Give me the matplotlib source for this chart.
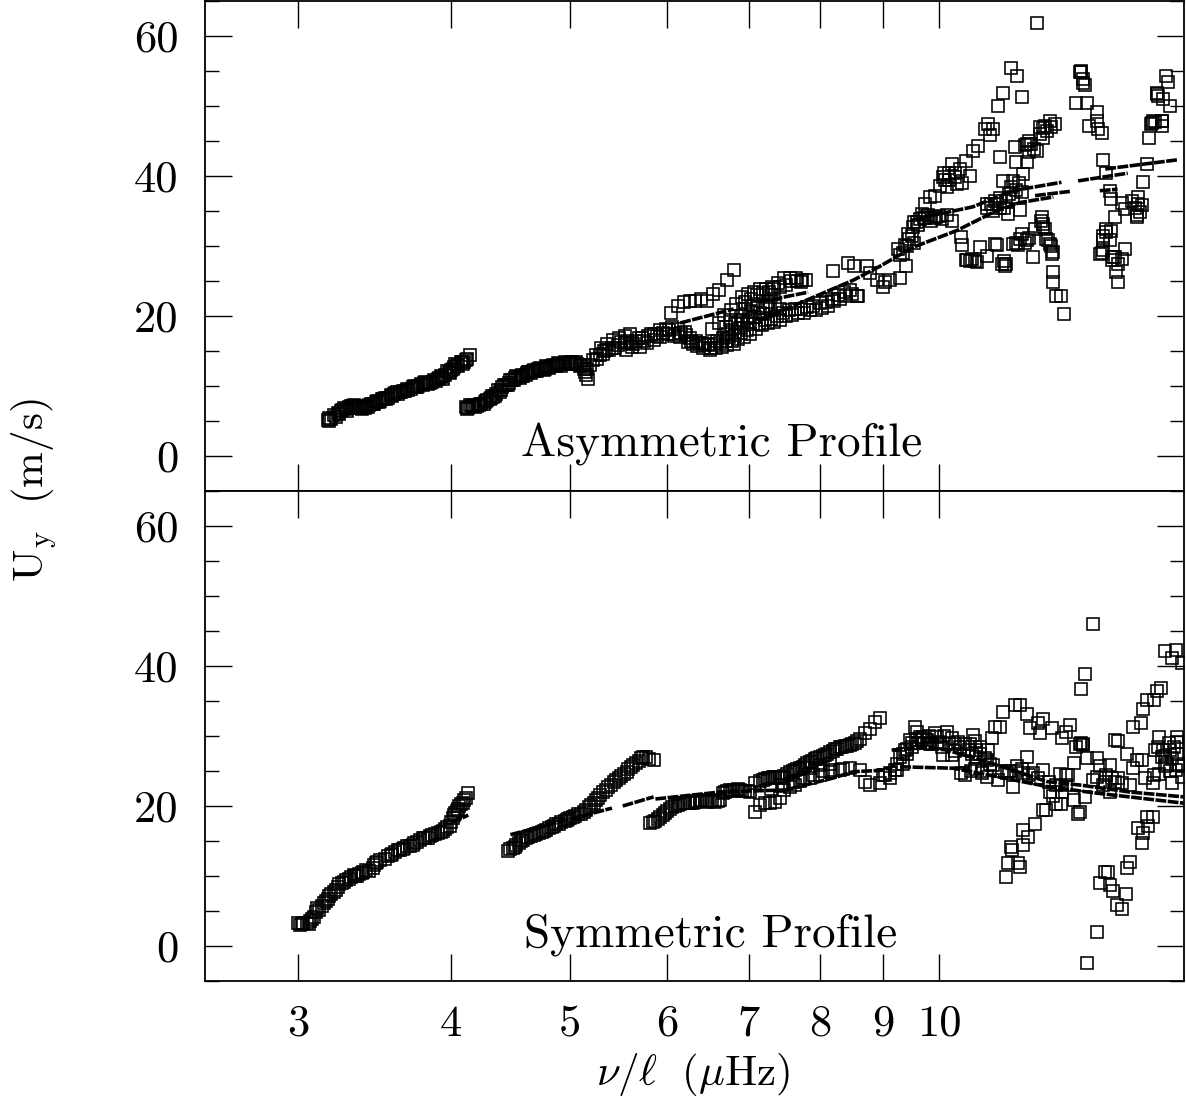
import matplotlib
matplotlib.use("Agg")
import matplotlib.pyplot as plt
from matplotlib.ticker import FixedLocator, NullLocator, NullFormatter

plt.rcParams["font.family"] = ["cmr10", "DejaVu Serif"]
plt.rcParams["mathtext.fontset"] = "cm"
plt.rcParams["axes.formatter.use_mathtext"] = True

# Asymmetric profile, squares
asym_x = [
    3.17, 3.21, 3.25, 3.28, 3.32, 3.36, 3.40, 3.43, 3.47, 3.51, 3.55, 3.59, 3.63, 3.67, 3.72, 3.76, 3.80, 3.84,
    3.89, 3.93, 3.98, 4.02, 4.07, 4.11, 4.14,
    3.19, 3.23, 3.27, 3.30, 3.34, 3.38, 3.41, 3.45, 3.49, 3.53, 3.57, 3.61, 3.65, 3.69, 3.74, 3.78, 3.82, 3.86,
    3.91, 3.95, 4.00, 4.04, 4.09, 4.12,
    4.11, 4.16, 4.21, 4.26, 4.31, 4.35, 4.40, 4.46, 4.51, 4.56, 4.61, 4.66, 4.71, 4.77, 4.82, 4.88, 4.93, 4.99,
    5.05, 5.10, 5.15,
    4.13, 4.18, 4.23, 4.28, 4.33, 4.38, 4.43, 4.48, 4.53, 4.58, 4.63, 4.68, 4.74, 4.79, 4.85, 4.90, 4.96, 5.02,
    5.07, 5.13, 5.17, 5.19,
    5.22, 5.29, 5.35, 5.41, 5.47, 5.54, 5.60, 5.66, 5.72, 5.79, 5.86, 5.92, 5.99, 6.06, 6.13, 6.20,
    5.25, 5.32, 5.38, 5.44, 5.50, 5.57, 5.63, 5.69, 5.75, 5.82, 5.89, 5.95, 6.02, 6.09, 6.16, 6.24,
    6.27, 6.34, 6.41, 6.48, 6.55, 6.63, 6.70, 6.78, 6.85, 6.93, 7.01, 7.09, 7.17, 7.25, 7.33, 7.42, 7.50, 7.59,
    7.67, 7.76, 7.85, 7.94, 8.03, 8.12, 8.21, 8.30, 8.40, 8.49, 8.59,
    6.30, 6.37, 6.44, 6.52, 6.59, 6.66, 6.74, 6.82, 6.89, 6.97, 7.05, 7.13, 7.21, 7.29, 7.37, 7.46, 7.54, 7.63,
    7.72, 7.81, 7.90, 8.00, 8.09, 8.18, 8.27, 8.37, 8.46,
    6.53, 6.61, 6.68, 6.76, 6.83, 6.91, 6.99, 7.06, 7.15, 7.23, 7.31, 7.39, 7.47, 7.56, 7.64, 7.73, 7.79,
    6.70, 6.75, 6.85, 6.90, 6.95, 7.00, 7.05, 7.15, 7.25, 7.30,
    6.05, 6.12, 6.19, 6.26, 6.32, 6.40, 6.47, 6.54, 6.62, 6.72, 6.80,
    8.19, 8.43, 8.53, 8.74, 8.78, 8.57, 8.90, 9.00,
    9.03, 9.12, 9.30, 9.40, 9.26, 9.38, 9.44, 9.53, 9.59, 9.68, 9.74, 9.83, 9.93, 10.02, 10.08, 10.24, 10.40,
    10.53, 10.66, 10.76, 10.90, 10.97, 11.07, 11.01, 11.18, 11.27, 11.45, 11.57, 11.69, 12.03,
    9.50, 9.62, 9.72, 9.80, 9.90, 10.00, 10.12, 10.20, 10.30, 10.45, 10.60,
    10.94, 11.11, 11.21, 11.39, 11.64, 11.68, 11.50, 11.28, 11.72, 11.21, 11.55, 11.79, 11.53, 11.79, 11.90,
    12.02, 12.17, 12.32, 12.44, 12.09,
    10.42, 10.45, 10.53, 10.70, 10.80, 10.94, 11.11, 11.15, 11.25, 11.32, 11.50, 11.68, 11.60, 11.79, 11.94,
    11.98, 12.13, 12.17, 12.24, 12.32, 12.36, 12.38, 12.40, 12.47, 12.59, 12.65,
    13.05, 13.11, 13.17, 12.94, 13.21, 13.47, 13.45, 13.25, 13.49, 13.58, 13.62, 13.69, 13.79, 13.83, 13.92,
    13.83, 13.70, 13.62, 13.79, 13.53, 13.92, 14.19, 14.10, 14.01, 13.95, 13.99,
    14.10, 14.19, 14.37, 14.55, 14.64, 14.50, 14.68, 14.78, 14.85, 14.92, 15.21, 15.21, 15.06, 15.25, 15.45,
    15.33, 15.37,
]
asym_y = [
    5.1, 5.8, 6.4, 6.7, 7.1, 7.1, 6.8, 7.3, 7.7, 8.1, 8.3, 8.8, 9.1, 9.3, 9.8, 10.0, 10.4, 10.5,
    10.7, 11.3, 12.0, 12.7, 13.4, 13.7, 14.4,
    5.3, 6.2, 6.8, 7.0, 6.9, 6.7, 7.2, 7.4, 7.7, 8.3, 8.7, 9.2, 9.3, 9.4, 9.9, 10.3, 10.4, 10.6,
    11.2, 11.6, 12.3, 13.0, 13.2, 13.8,
    7.0, 7.1, 7.3, 7.7, 8.3, 8.8, 9.8, 10.5, 11.1, 11.4, 11.8, 12.1, 12.4, 12.5, 12.8, 13.0, 13.1, 13.3,
    13.3, 13.0, 11.6,
    6.9, 7.0, 7.5, 8.0, 8.4, 9.2, 10.2, 10.8, 11.3, 11.5, 12.0, 12.2, 12.4, 12.7, 12.9, 13.1, 13.2, 13.4,
    13.2, 12.5, 11.0, 13.0,
    13.7, 14.4, 15.1, 15.5, 15.8, 16.1, 16.2, 16.5, 16.8, 17.1, 17.5, 18.0, 18.2, 18.5, 18.2, 17.7,
    14.5, 14.6, 15.2, 15.4, 16.3, 16.4, 16.0, 16.9, 16.5, 17.4, 17.2, 17.6, 18.0, 17.5, 17.6, 16.3,
    16.8, 16.5, 16.2, 16.0, 15.8, 16.1, 16.4, 16.5, 16.7, 17.0, 17.5, 18.2, 18.7, 19.0, 19.2, 19.5, 20.0, 20.2,
    20.5, 20.5, 20.8, 20.9, 21.2, 21.5, 22.2, 22.5, 22.8, 23.2, 22.9,
    16.0, 16.1, 15.9, 15.5, 16.5, 16.9, 17.0, 17.3, 17.6, 18.0, 18.8, 18.8, 19.4, 19.6, 20.0, 20.5, 20.8, 21.0,
    21.0, 21.3, 21.4, 21.8, 22.0, 22.5, 23.0, 23.4, 23.7,
    18.2, 19.0, 20.1, 20.8, 21.7, 22.7, 23.2, 23.5, 23.8, 23.9, 24.1, 24.7, 25.4, 25.5, 25.4, 25.2, 25.1,
    18.5, 19.5, 19.0, 20.0, 21.0, 20.0, 21.5, 20.5, 22.0, 23.0,
    20.5, 21.5, 22.0, 22.2, 22.2, 22.4, 22.2, 23.2, 23.7, 25.1, 26.6,
    26.5, 27.6, 27.2, 27.1, 26.1, 22.8, 25.1, 24.1,
    24.8, 25.1, 25.4, 27.2, 29.6, 30.1, 31.7, 32.7, 33.4, 34.6, 36.0, 37.0, 37.2, 38.6, 39.8, 41.7, 41.0,
    42.2, 43.6, 44.3, 46.7, 47.4, 46.7, 45.8, 50.0, 51.9, 55.5, 54.3, 51.3, 61.8,
    31.5, 33.0, 34.0, 34.5, 34.0, 34.3, 39.5, 40.5, 39.8, 39.0, 40.0,
    36.0, 36.5, 35.5, 34.6, 35.1, 37.7, 39.3, 39.3, 40.3, 42.7, 42.0, 42.0, 44.1, 44.6, 44.6,
    43.6, 46.9, 47.9, 47.4, 46.0,
    31.3, 30.1, 28.0, 27.9, 29.8, 28.6, 30.3, 30.1, 27.5, 27.2, 30.3, 31.7, 30.1, 30.8, 28.4,
    32.4, 34.1, 32.7, 31.0, 30.3, 28.9, 26.3, 24.8, 22.8, 22.8, 20.3,
    54.9, 53.3, 53.0, 50.4, 50.4, 49.1, 47.9, 47.1, 46.7, 46.1, 42.3, 40.5, 37.9, 36.7, 34.2,
    32.2, 32.4, 30.8, 30.8, 28.9, 28.4, 29.6, 28.2, 27.5, 26.3, 24.8,
    36.2, 35.3, 36.5, 37.0, 35.8, 34.1, 39.1, 41.7, 45.4, 47.6, 47.9, 47.2, 51.7, 51.0, 50.0,
    54.3, 53.4,
]

# more squares where the asymmetric branches overlap
asym_dense_x = [
    3.18, 3.18, 3.22, 3.24, 3.26, 3.29, 3.31, 3.33, 3.35, 3.37, 3.39, 3.42, 3.44, 3.46, 3.48, 3.50, 3.52, 3.54,
    3.58, 3.60, 3.62, 3.64, 3.68, 3.71, 3.73, 3.75, 3.79, 3.81, 3.83, 3.87, 3.90, 3.92, 3.94, 3.97, 3.99, 4.01,
    4.03, 4.05, 4.08, 4.10,
    4.12, 4.14, 4.17, 4.20, 4.22, 4.25, 4.27, 4.30, 4.32, 4.34, 4.37, 4.39, 4.42, 4.45, 4.47, 4.50, 4.52, 4.55,
    4.57, 4.60, 4.62, 4.65, 4.67, 4.70, 4.73, 4.76, 4.78, 4.81, 4.84, 4.87, 4.89, 4.92, 4.95, 4.98, 5.01, 5.04,
    5.06, 5.09, 5.12, 5.14, 5.16,
    5.26, 5.30, 5.33, 5.36, 5.42, 5.48, 5.54, 5.60,
    5.55, 5.62, 5.70, 5.78, 5.85, 5.92, 6.00, 6.08, 6.15, 6.22, 6.28, 6.35, 6.42, 6.50, 6.58, 6.65, 6.72, 6.80,
    6.72, 6.78, 6.82, 6.88, 6.92, 6.98, 7.02, 7.08, 7.12, 7.18, 7.22, 7.28, 7.35, 7.42,
    6.95, 7.02, 7.10, 7.18, 7.26, 7.34, 7.42, 7.50, 7.58, 7.66, 7.72,
    9.55, 9.65, 9.75, 9.85, 9.95, 10.05, 10.15, 10.25, 9.45, 9.55, 9.35, 9.30, 9.42, 10.10, 10.20, 10.30, 10.15, 10.35,
    10.95, 11.02, 11.08, 11.15, 11.22, 11.30, 11.35, 11.40, 11.45, 11.50, 11.55, 11.62, 11.75, 11.85, 11.95, 11.85,
    12.10, 12.20, 12.25, 12.35, 12.15,
    10.55, 10.60, 10.65, 10.75, 11.30, 11.35, 11.55, 11.65, 11.75, 11.85, 12.12, 12.15, 12.20, 12.28, 12.35, 12.40,
    13.07, 13.03, 13.10, 13.62, 13.70, 13.62, 13.58, 13.85, 13.88, 14.45, 14.55, 14.60, 14.50, 15.00, 14.95, 14.90,
    15.08, 15.10, 15.20,
]
asym_dense_y = [
    5.0, 5.5, 5.6, 6.0, 6.6, 6.5, 7.2, 7.3, 6.9, 6.9, 7.0, 7.0, 7.5, 7.4, 7.9, 7.9, 8.2, 8.1,
    8.6, 9.0, 8.9, 9.2, 9.6, 9.6, 10.0, 9.8, 10.2, 10.6, 10.3, 10.8, 11.0, 11.4, 11.0, 12.2, 11.8, 12.5,
    13.1, 12.9, 13.5, 13.4,
    6.7, 7.3, 7.3, 7.1, 7.5, 7.5, 7.9, 8.1, 8.6, 8.6, 9.5, 9.4, 10.2, 10.1, 10.8, 10.9, 11.4, 11.2,
    11.6, 11.6, 12.0, 11.9, 12.3, 12.2, 12.6, 12.3, 12.9, 12.6, 13.0, 12.8, 13.3, 12.9, 13.4, 13.1, 13.5, 13.1,
    13.4, 12.8, 13.0, 12.0, 12.5,
    13.9, 15.4, 15.0, 16.0, 16.6, 16.9, 17.2, 17.4,
    15.2, 15.6, 15.6, 16.2, 16.6, 17.0, 17.4, 17.2, 17.0, 17.3, 16.5, 15.7, 15.5, 15.2, 15.5, 15.6, 15.8, 16.0,
    17.5, 18.0, 18.8, 18.3, 19.4, 19.2, 20.6, 19.8, 21.2, 20.3, 21.5, 21.0, 21.5, 21.0,
    22.0, 22.5, 23.0, 23.3, 23.5, 23.8, 24.2, 24.5, 25.0, 25.0, 24.8,
    33.5, 33.8, 34.0, 33.6, 34.2, 33.9, 34.4, 33.6, 31.0, 30.5, 29.0, 28.7, 30.0, 40.5, 39.5, 40.5, 38.5, 38.8,
    35.5, 36.0, 35.0, 36.0, 36.8, 35.5, 36.5, 37.5, 38.5, 37.0, 38.0, 39.0, 44.5, 45.0, 43.8, 43.5,
    47.0, 47.2, 46.5, 47.0, 45.5,
    28.0, 27.8, 28.1, 27.7, 27.8, 27.4, 30.5, 31.0, 30.5, 31.2, 33.6, 33.2, 32.5, 30.8, 30.0, 29.2,
    55.0, 54.8, 53.8, 31.5, 32.0, 29.5, 29.0, 28.0, 28.5, 35.5, 36.0, 34.8, 34.5, 47.7, 47.8, 47.5,
    51.8, 51.5, 47.8,
]

# Asymmetric profile, dotted model tracks
asym_track1_x = [6.15, 6.80]
asym_track1_y = [19.0, 21.0]
asym_track2_x = [7.14, 7.82]
asym_track2_y = [22.0, 23.4]
asym_track3_x = [7.14, 8.51, 8.95, 9.52, 10.34, 11.07, 11.64, 12.40]
asym_track3_y = [19.4, 25.1, 27.1, 29.8, 32.2, 34.8, 36.2, 37.0]
asym_track4_x = [9.59, 10.34, 10.66, 11.49, 12.59]
asym_track4_y = [33.9, 35.1, 35.6, 37.9, 39.1]
asym_track5_x = [11.98, 12.79]
asym_track5_y = [37.2, 37.8]
asym_track6_x = [12.99, 14.26]
asym_track6_y = [39.3, 40.4]
asym_track7_x = [13.53, 13.99]
asym_track7_y = [37.9, 38.1]
asym_track8_x = [13.67, 15.64]
asym_track8_y = [41.0, 42.3]

# Symmetric profile, squares
sym_x = [
    3.00, 3.02, 3.05, 3.07, 3.09, 3.11, 3.14, 3.16, 3.18, 3.21, 3.23, 3.26, 3.28, 3.31, 3.34, 3.36, 3.39, 3.43,
    3.46, 3.48, 3.53, 3.57, 3.60, 3.63, 3.66, 3.70, 3.73, 3.77, 3.81, 3.84, 3.88, 3.92, 3.95, 3.99, 4.01, 4.03,
    4.05, 4.07, 4.10, 4.13,
    4.45, 4.49, 4.52, 4.56, 4.60, 4.65, 4.69, 4.74, 4.78, 4.83, 4.87, 4.92, 4.97, 5.00, 5.05, 5.10, 5.15, 5.20,
    5.25, 5.29, 5.35, 5.40, 5.45, 5.50, 5.56, 5.61, 5.66, 5.71, 5.77, 5.85,
    5.81, 5.87, 5.92, 5.98, 6.03, 6.09, 6.15, 6.21, 6.27, 6.32, 6.38, 6.44, 6.50, 6.56, 6.63, 6.69, 6.75, 6.81,
    6.88, 6.94, 7.01, 7.08,
    7.14, 7.21, 7.28, 7.35, 7.42, 7.48, 7.56, 7.63, 7.70, 7.77, 7.85, 7.92, 8.00, 8.07, 8.15, 8.22, 8.30, 8.38,
    8.46, 8.54, 8.62, 8.70, 8.78, 8.87, 8.95,
    7.08, 7.14, 7.21, 7.28, 7.35, 7.42, 7.48, 7.56, 7.63, 7.70, 7.85, 8.00, 8.15, 8.30, 8.46, 8.62, 8.70, 8.78,
    8.95, 9.03, 9.12, 9.20,
    9.00, 9.12, 9.24, 9.30, 9.38, 9.47, 9.56, 9.59, 9.65, 9.77, 9.93, 10.15, 9.98, 10.24, 10.37, 10.08, 10.24,
    10.43, 10.50, 10.66, 10.60, 10.80, 10.96, 10.73, 10.94, 11.07, 10.94, 11.18, 11.50, 11.36, 11.57, 11.81,
    11.72, 11.94, 12.17,
    9.35, 9.42, 9.50, 9.62, 9.70, 9.84, 10.05, 10.30, 10.50, 10.70, 10.85,
    11.04, 11.11, 11.21, 11.28, 11.53, 11.64, 11.79, 11.86, 12.04, 12.17, 12.09, 12.36, 12.61, 12.69, 12.79,
    13.05, 13.15, 13.35,
    13.03, 13.11, 12.94, 13.20, 13.45, 12.90, 12.75, 13.53, 13.79, 13.35, 13.67, 13.92, 14.10, 14.31, 13.79,
    12.32, 12.47, 12.59, 12.17, 12.24, 13.03, 12.99, 13.15, 12.90, 11.98, 11.72, 11.83, 11.72, 11.46, 11.48,
    11.39, 11.64, 11.34, 11.60,
    13.45, 13.20, 13.67, 13.74, 13.53, 13.79, 13.86, 14.22, 13.98, 14.10, 14.25, 14.31,
    14.64, 14.55, 14.68, 14.80, 14.78, 14.94,
    14.01, 13.92, 14.25, 14.40, 14.64, 14.50, 14.40, 14.61, 14.68, 14.78, 14.99, 15.06, 15.17, 15.12, 15.64,
    15.28, 15.60, 15.50, 15.79,
    15.25, 15.50, 15.64, 15.28, 15.60, 14.99, 14.72, 15.50, 14.94, 15.12, 15.79, 15.79, 15.55, 15.28, 15.64,
]
sym_y = [
    3.3, 3.1, 3.3, 3.6, 4.1, 5.4, 5.7, 6.4, 7.1, 7.7, 8.4, 9.0, 9.4, 9.9, 10.0, 10.3, 10.6, 10.7,
    11.6, 12.0, 12.4, 13.0, 13.4, 13.7, 14.0, 14.3, 14.7, 15.1, 15.4, 15.7, 16.0, 16.3, 16.7, 17.1, 18.3, 19.0,
    19.6, 20.3, 20.9, 21.9,
    13.6, 14.0, 14.4, 15.0, 15.4, 15.7, 16.0, 16.3, 16.6, 17.0, 17.4, 17.7, 18.0, 18.3, 18.6, 18.9, 19.4, 20.1,
    20.9, 21.6, 22.3, 23.0, 23.7, 24.3, 24.9, 25.6, 26.1, 26.9, 27.0, 26.6,
    17.6, 17.9, 18.4, 19.0, 19.6, 20.0, 20.3, 20.4, 20.4, 20.6, 20.7, 20.7, 20.7, 20.6, 20.9, 22.0, 22.3, 22.3,
    22.3, 22.1, 22.0, 23.3,
    23.6, 23.9, 24.0, 24.1, 24.0, 24.3, 24.9, 25.1, 25.4, 25.9, 26.3, 26.7, 27.0, 27.3, 27.7, 28.1, 28.4, 28.6,
    28.7, 29.0, 29.6, 30.4, 31.0, 32.0, 32.6,
    19.1, 20.1, 20.4, 20.4, 20.6, 21.1, 22.3, 22.7, 23.0, 23.6, 24.0, 24.4, 24.9, 25.1, 25.4, 25.1, 23.4, 23.0,
    23.3, 24.4, 24.0, 25.1,
    24.4, 24.7, 25.1, 27.0, 28.0, 29.4, 31.3, 30.6, 29.9, 29.4, 30.4, 30.6, 29.2, 29.7, 29.2, 27.3, 27.3,
    24.7, 24.4, 30.1, 28.9, 28.5, 28.0, 28.0, 26.6, 25.9, 24.2, 23.7, 22.7, 24.7, 25.7, 27.0,
    24.7, 24.7, 25.1,
    26.0, 27.5, 28.5, 29.0, 29.8, 28.8, 28.5, 27.8, 26.5, 29.3, 25.0,
    29.7, 31.3, 31.3, 33.5, 34.4, 34.4, 33.2, 31.1, 31.8, 32.5, 30.4, 31.1, 29.7, 30.6, 31.6,
    36.7, 38.8, 46.0,
    28.9, 28.9, 28.5, 26.8, 26.8, 26.2, 24.4, 25.7, 25.9, 23.7, 23.5, 23.5, 23.3, 23.0, 22.0,
    22.0, 20.3, 20.3, 19.4, 19.4, 19.2, 18.9, 21.3, 20.9, 17.5, 16.6, 15.6, 14.4, 14.2, 13.7,
    11.8, 11.3, 9.9, 11.8,
    2.0, -2.4, 10.6, 10.6, 9.0, 8.7, 7.8, 7.5, 5.9, 5.3, 11.1, 12.0,
    14.7, 16.8, 16.1, 17.1, 18.5, 18.5,
    29.3, 29.4, 27.5, 25.4, 26.6, 26.6, 31.3, 31.9, 33.9, 35.2, 35.1, 36.5, 36.9, 29.9, 29.9,
    42.1, 42.3, 41.1, 40.4,
    28.0, 26.8, 27.5, 25.7, 25.1, 24.4, 24.0, 23.3, 23.3, 24.6, 25.7, 24.2, 28.5, 27.1, 29.2,
]

# more squares where the symmetric branches overlap
sym_dense_x = [
    3.01, 3.03, 3.06, 3.08, 3.10, 3.12, 3.15, 3.17, 3.19, 3.22, 3.24, 3.27, 3.30, 3.33, 3.35, 3.38, 3.41, 3.45,
    3.47, 3.50, 3.55, 3.58, 3.62, 3.65, 3.68, 3.72, 3.75, 3.79, 3.83, 3.86, 3.90, 3.94, 3.97, 4.00, 4.02, 4.04,
    4.06, 4.09, 4.11,
    4.47, 4.51, 4.54, 4.58, 4.62, 4.67, 4.72, 4.76, 4.81, 4.85, 4.90, 4.95, 4.98, 5.03, 5.08, 5.13, 5.18, 5.23,
    5.27, 5.32, 5.37, 5.43, 5.48, 5.53, 5.58, 5.63, 5.69, 5.74, 5.80,
    5.84, 5.90, 5.95, 6.00, 6.06, 6.12, 6.18, 6.24, 6.30, 6.35, 6.41, 6.47, 6.53, 6.60, 6.66, 6.72, 6.78, 6.85,
    6.91, 6.98,
    7.18, 7.25, 7.32, 7.39, 7.45, 7.52, 7.60, 7.66, 7.74, 7.81, 7.88, 7.96, 8.04, 8.11, 8.19, 8.26, 8.34, 8.42,
    8.50, 8.58,
    7.30, 7.45, 7.60, 7.75, 7.90, 8.05, 8.20, 8.35, 8.00, 8.15, 7.85,
    9.25, 9.35, 9.42, 9.50, 9.58, 9.68, 9.72, 9.82, 9.88, 9.96, 10.02, 10.10, 10.20, 10.30, 10.40, 10.50, 10.58,
    10.65, 10.72, 10.80, 10.90, 11.00, 10.62, 10.70, 10.85, 11.25, 11.40, 11.55, 11.70, 11.85, 12.05, 12.30,
    12.45, 12.60, 12.40, 12.70, 12.55, 12.70, 13.10, 13.05, 13.70, 13.60, 13.45, 13.85, 14.00,
    15.00, 15.10, 15.20, 15.35, 15.45, 15.70, 15.40, 15.45,
]
sym_dense_y = [
    3.0, 3.3, 3.2, 3.9, 4.8, 5.2, 6.1, 6.7, 7.4, 8.0, 8.8, 9.2, 9.6, 10.1, 10.0, 10.5, 10.8, 11.2,
    11.9, 12.3, 12.8, 13.2, 13.7, 13.8, 14.3, 14.5, 14.9, 15.4, 15.5, 15.9, 16.1, 16.5, 17.0, 17.7, 18.7, 19.3,
    20.0, 20.5, 21.2,
    13.8, 14.2, 14.7, 15.2, 15.6, 15.8, 16.2, 16.4, 16.8, 17.2, 17.5, 17.9, 18.1, 18.5, 18.8, 19.2, 19.8, 20.5,
    21.2, 22.0, 22.7, 23.4, 24.0, 24.6, 25.3, 25.9, 26.5, 27.0, 26.7,
    17.7, 18.2, 18.7, 19.3, 19.8, 20.2, 20.4, 20.5, 20.5, 20.7, 20.8, 20.6, 20.7, 20.7, 21.8, 22.2, 22.2, 22.4,
    22.2, 22.1,
    23.7, 24.0, 24.1, 24.1, 24.2, 24.6, 25.0, 25.3, 25.6, 26.1, 26.5, 26.9, 27.1, 27.5, 27.9, 28.2, 28.5, 28.6,
    28.8, 29.3,
    22.5, 23.0, 23.5, 24.0, 24.5, 25.0, 25.2, 25.3, 25.8, 26.0, 25.5,
    26.0, 27.5, 28.2, 29.0, 29.5, 29.6, 29.0, 30.0, 28.8, 29.8, 29.0, 30.0, 29.0, 28.8, 28.5, 28.9, 28.0,
    27.5, 27.0, 27.5, 26.8, 26.0, 25.0, 25.3, 24.7, 25.0, 25.0, 25.0, 25.3, 24.5, 24.0, 23.5,
    23.0, 22.0, 21.5, 23.0, 24.6, 24.4, 28.7, 29.0, 24.5, 23.0, 24.2, 24.0, 24.0,
    28.0, 28.5, 27.0, 26.0, 25.0, 26.0, 29.0, 28.0,
]

# Symmetric profile, dotted model tracks
sym_track1_x = [4.00, 4.13]
sym_track1_y = [17.6, 18.7]
sym_track2_x = [4.47, 5.41]
sym_track2_y = [15.9, 19.7]
sym_track3_x = [5.52, 5.85]
sym_track3_y = [20.0, 21.3]
sym_track4_x = [5.87, 6.63, 7.50, 8.20, 8.51, 9.00, 9.24]
sym_track4_y = [21.0, 22.0, 22.3, 24.0, 24.9, 25.1, 25.9]
sym_track5_x = [9.15, 9.77, 10.15, 10.80, 11.50, 12.24, 13.03, 14.31, 15.85]
sym_track5_y = [28.0, 28.3, 28.0, 26.6, 25.1, 23.5, 23.0, 22.0, 21.3]
sym_track6_x = [9.30, 10.27, 11.15, 12.24, 13.36, 15.85]
sym_track6_y = [25.6, 25.4, 24.2, 22.8, 21.9, 20.4]

x_ticks = [3, 4, 5, 6, 7, 8, 9, 10]
y_major = [0, 20, 40, 60]
y_minor = [-5, 5, 10, 15, 25, 30, 35, 45, 50, 55, 65]

W, H = 1186, 1103
fig = plt.figure(figsize=(W / 100, H / 100), dpi=100)
ax_top = fig.add_axes([205 / W, (H - 491) / H, 979 / W, 490 / H])
ax_bot = fig.add_axes([205 / W, (H - 981) / H, 979 / W, 490 / H])


def style_axis(ax):
    ax.set_xscale("log")
    ax.set_xlim(2.518, 15.85)
    ax.set_ylim(-5, 65)
    ax.xaxis.set_major_locator(FixedLocator(x_ticks))
    ax.xaxis.set_minor_locator(NullLocator())
    ax.xaxis.set_minor_formatter(NullFormatter())
    ax.yaxis.set_major_locator(FixedLocator(y_major))
    ax.yaxis.set_minor_locator(FixedLocator(y_minor))
    ax.tick_params(which="major", direction="in", top=True, right=True, length=19.5, width=1.0,
                   labelsize=32)
    ax.tick_params(which="minor", direction="in", top=True, right=True, length=10, width=1.0)
    ax.tick_params(axis="x", pad=17)
    ax.tick_params(axis="y", pad=19)
    for spine in ax.spines.values():
        spine.set_linewidth(1.3)


def draw_squares(ax, xs, ys):
    ax.plot(xs, ys, linestyle="none", marker="s", markersize=8, markerfacecolor="none",
            markeredgecolor="black", markeredgewidth=1.15)


def draw_track(ax, xs, ys):
    ax.plot(xs, ys, color="black", linewidth=2.6, linestyle=(0, (3, 0.4)))


draw_squares(ax_top, asym_x + asym_dense_x, asym_y + asym_dense_y)
for xs, ys in [(asym_track1_x, asym_track1_y), (asym_track2_x, asym_track2_y), (asym_track3_x, asym_track3_y),
               (asym_track4_x, asym_track4_y), (asym_track5_x, asym_track5_y), (asym_track6_x, asym_track6_y),
               (asym_track7_x, asym_track7_y), (asym_track8_x, asym_track8_y)]:
    draw_track(ax_top, xs, ys)

draw_squares(ax_bot, sym_x + sym_dense_x, sym_y + sym_dense_y)
for xs, ys in [(sym_track1_x, sym_track1_y), (sym_track2_x, sym_track2_y), (sym_track3_x, sym_track3_y),
               (sym_track4_x, sym_track4_y), (sym_track5_x, sym_track5_y), (sym_track6_x, sym_track6_y)]:
    draw_track(ax_bot, xs, ys)

style_axis(ax_top)
style_axis(ax_bot)
ax_top.tick_params(axis="x", labelbottom=False)
ax_bot.set_xticklabels([str(t) for t in x_ticks])
ax_top.set_yticklabels([str(t) for t in y_major])
ax_bot.set_yticklabels([str(t) for t in y_major])

ax_top.text(722 / W, (H - 457) / H, "Asymmetric Profile", transform=fig.transFigure, fontsize=34,
            ha="center", va="baseline")
ax_bot.text(711 / W, (H - 947) / H, "Symmetric Profile", transform=fig.transFigure, fontsize=34,
            ha="center", va="baseline")

fig.text(693 / W, (H - 1075) / H, r"$\nu/\ell\ \ (\mu\mathrm{Hz})$", fontsize=31, ha="center", va="center")
fig.text(34 / W, (H - 490) / H, r"$\mathrm{U_y\ \ (m/s)}$", fontsize=31, rotation=90, ha="center", va="center")

fig.savefig("out.png", dpi=100)
plt.close(fig)
